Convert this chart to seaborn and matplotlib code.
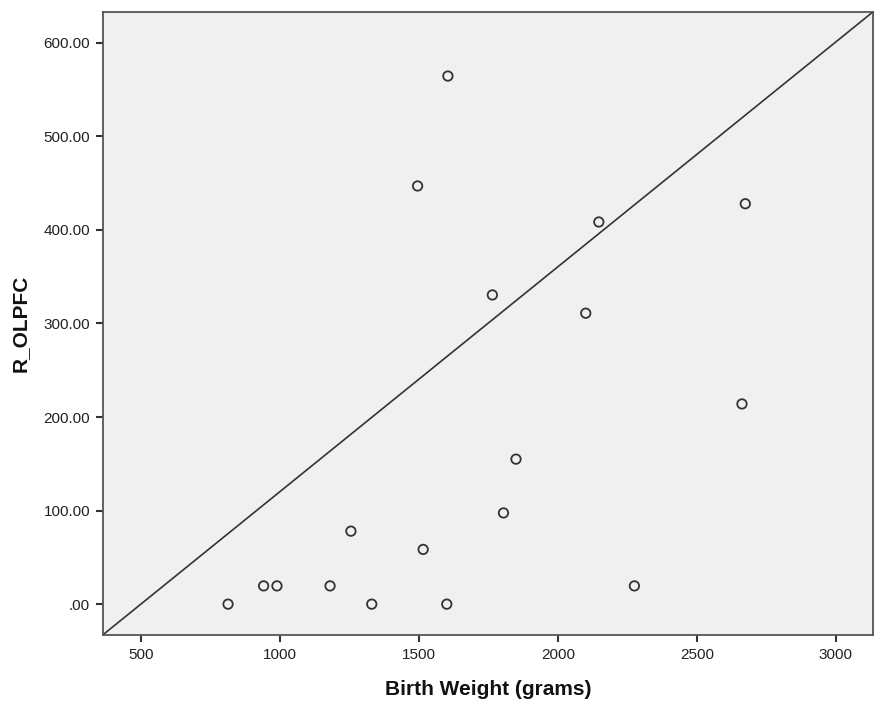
import matplotlib
matplotlib.use("Agg")
import matplotlib.pyplot as plt
from matplotlib.ticker import FuncFormatter, FixedLocator
import seaborn as sns
import pandas as pd

# Birth weight vs right OLPFC measurement
birth_weight = [813, 941, 989, 1180, 1255, 1330, 1515, 1600, 1604, 1495,
                1764, 1804, 1849, 2100, 2147, 2275, 2662, 2674]
r_olpfc = [0.0, 19.5, 19.5, 19.5, 78.0, 0.0, 58.5, 0.0, 564.5, 447.0,
           330.5, 97.5, 155.0, 311.0, 408.5, 19.5, 214.0, 428.0]

x_ticks = [500, 1000, 1500, 2000, 2500, 3000]
y_ticks = [0, 100, 200, 300, 400, 500, 600]
x_label = "Birth Weight (grams)"
y_label = "R_OLPFC"

df = pd.DataFrame({x_label: birth_weight, y_label: r_olpfc})

sns.set_theme(style="white")
plt.rcParams["font.family"] = ["Liberation Sans", "DejaVu Sans"]

fig = plt.figure(figsize=(8.74, 7.04), dpi=100)
fig.patch.set_facecolor("white")
ax = fig.add_axes([0.1175, 0.098, 0.8812, 0.885])
ax.set_facecolor("#F0F0F0")

sns.scatterplot(data=df, x=x_label, y=y_label, ax=ax, marker="o",
                s=46, facecolor="none", edgecolor="#333333", linewidth=1.3,
                zorder=3)

ax.set_xlim(362, 3133)
ax.set_ylim(-33, 633)

# corner-to-corner reference line
ax.plot([0, 1], [0, 1], transform=ax.transAxes, color="#333333",
        linewidth=1.2, zorder=2)

ax.xaxis.set_major_locator(FixedLocator(x_ticks))
ax.yaxis.set_major_locator(FixedLocator(y_ticks))
ax.yaxis.set_major_formatter(
    FuncFormatter(lambda v, _: ".00" if v == 0 else f"{v:.2f}"))

ax.tick_params(axis="both", which="major", direction="out", length=5,
               width=1.5, color="#333333", labelsize=11, labelcolor="#222222",
               pad=4, bottom=True, left=True)

for side, sp in ax.spines.items():
    sp.set_color("#555555")
    sp.set_linewidth(1.3)
    sp.set_visible(True)

ax.set_xlabel(x_label, fontsize=15, fontweight="bold", color="#111111",
              labelpad=13)
ax.set_ylabel(y_label, fontsize=15, fontweight="bold", color="#111111",
              labelpad=10)

fig.savefig("out.png", dpi=100)
